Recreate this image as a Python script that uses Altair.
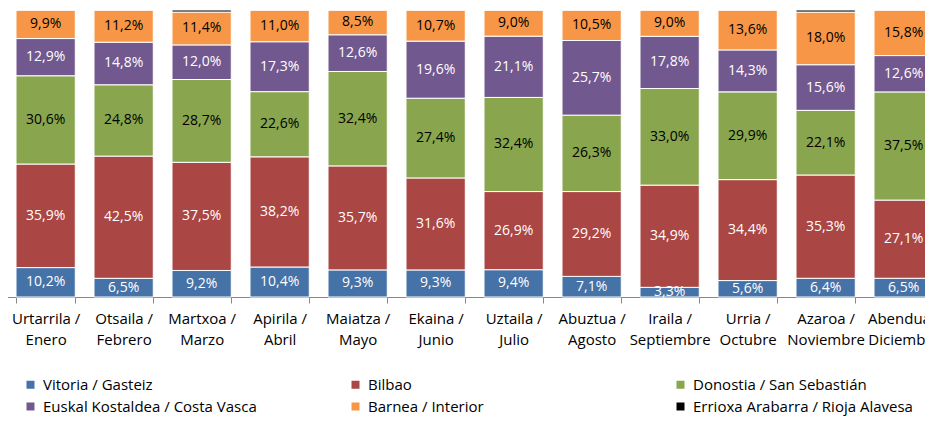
import altair as alt
import pandas as pd

months = ["Urtarrila /|Enero", "Otsaila /|Febrero", "Martxoa /|Marzo", "Apirila /|Abril",
          "Maiatza /|Mayo", "Ekaina /|Junio", "Uztaila /|Julio", "Abuztua /|Agosto",
          "Iraila /|Septiembre", "Urria /|Octubre", "Azaroa /|Noviembre", "Abendua /|Diciembre"]

series = ["Vitoria / Gasteiz", "Bilbao", "Donostia / San Sebastián",
          "Euskal Kostaldea / Costa Vasca", "Barnea / Interior", "Errioxa Arabarra / Rioja Alavesa"]
colors = ["#4572A7", "#AA4643", "#89A54E", "#71588F", "#F79646", "#000000"]

vitoria = [10.2, 6.5, 9.2, 10.4, 9.3, 9.3, 9.4, 7.1, 3.3, 5.6, 6.4, 6.5]
bilbao = [35.9, 42.5, 37.5, 38.2, 35.7, 31.6, 26.9, 29.2, 34.9, 34.4, 35.3, 27.1]
donostia = [30.6, 24.8, 28.7, 22.6, 32.4, 27.4, 32.4, 26.3, 33.0, 29.9, 22.1, 37.5]
euskal = [12.9, 14.8, 12.0, 17.3, 12.6, 19.6, 21.1, 25.7, 17.8, 14.3, 15.6, 12.6]
barnea = [9.9, 11.2, 11.4, 11.0, 8.5, 10.7, 9.0, 10.5, 9.0, 13.6, 18.0, 15.8]
errioxa = [0, 0, 0.7, 0, 0, 0, 0, 0, 0, 0, 0.7, 0]

all_vals = [vitoria, bilbao, donostia, euskal, barnea, errioxa]
rows = []
for si, (name, vals) in enumerate(zip(series, all_vals)):
    for m, v in zip(months, vals):
        rows.append({"month": m, "series": name, "idx": si, "value": v})
df = pd.DataFrame(rows)

FONT = "Open Sans"

base = alt.Chart(df).transform_stack(
    stack="value", groupby=["month"], sort=[alt.SortField("idx", "ascending")],
    as_=["y0", "y1"], offset="normalize"
).transform_calculate(
    mid="(datum.y0 + datum.y1) / 2",
    label="replace(format(datum.value, '.1f'), '.', ',') + '%'"
)

x_enc = alt.X("month:N", sort=months,
              scale=alt.Scale(range=[-1.36, 934.64], paddingInner=0.24, paddingOuter=0.12),
              axis=alt.Axis(title=None, labelExpr="split(datum.label, '|')", labelAngle=0,
                            tickBand="extent", domainColor="#888888", tickColor="#888888",
                            tickSize=6, labelFont=FONT, labelFontSize=15, labelColor="#000000",
                            labelLineHeight=21, labelPadding=8, labelBaseline="top"))

bars = base.mark_bar(stroke="white", strokeWidth=1).encode(
    x=x_enc,
    y=alt.Y("y0:Q", scale=alt.Scale(domain=[0, 1]), axis=None),
    y2="y1:Q",
    color=alt.Color("series:N", scale=alt.Scale(domain=series, range=colors),
                    legend=alt.Legend(title=None, orient="none", legendX=15, legendY=367,
                                      direction="horizontal", columns=3, gridAlign="all",
                                      columnPadding=85, rowPadding=6,
                                      symbolType="square", symbolSize=64, symbolStrokeWidth=0,
                                      labelFont=FONT, labelFontSize=15, labelColor="#000000",
                                      labelOffset=5, labelLimit=400)),
)

texts = base.transform_filter("datum.idx < 5 && datum.value > 0").mark_text(
    font=FONT, fontSize=14, baseline="middle", align="center"
).encode(
    x=x_enc,
    y=alt.Y("mid:Q", scale=alt.Scale(domain=[0, 1]), axis=None),
    text="label:N",
    color=alt.condition("datum.idx == 2 || datum.idx == 4", alt.value("#000000"), alt.value("#FFFFFF")),
)

chart = alt.layer(bars, texts).properties(
    width=917, height=287,
    padding={"left": 0, "top": 2, "right": 0, "bottom": 119},
    autosize=alt.AutoSizeParams(type="none"),
).configure_view(stroke=None)

chart.save("out.html", embed_options={"renderer": "svg", "actions": False})
